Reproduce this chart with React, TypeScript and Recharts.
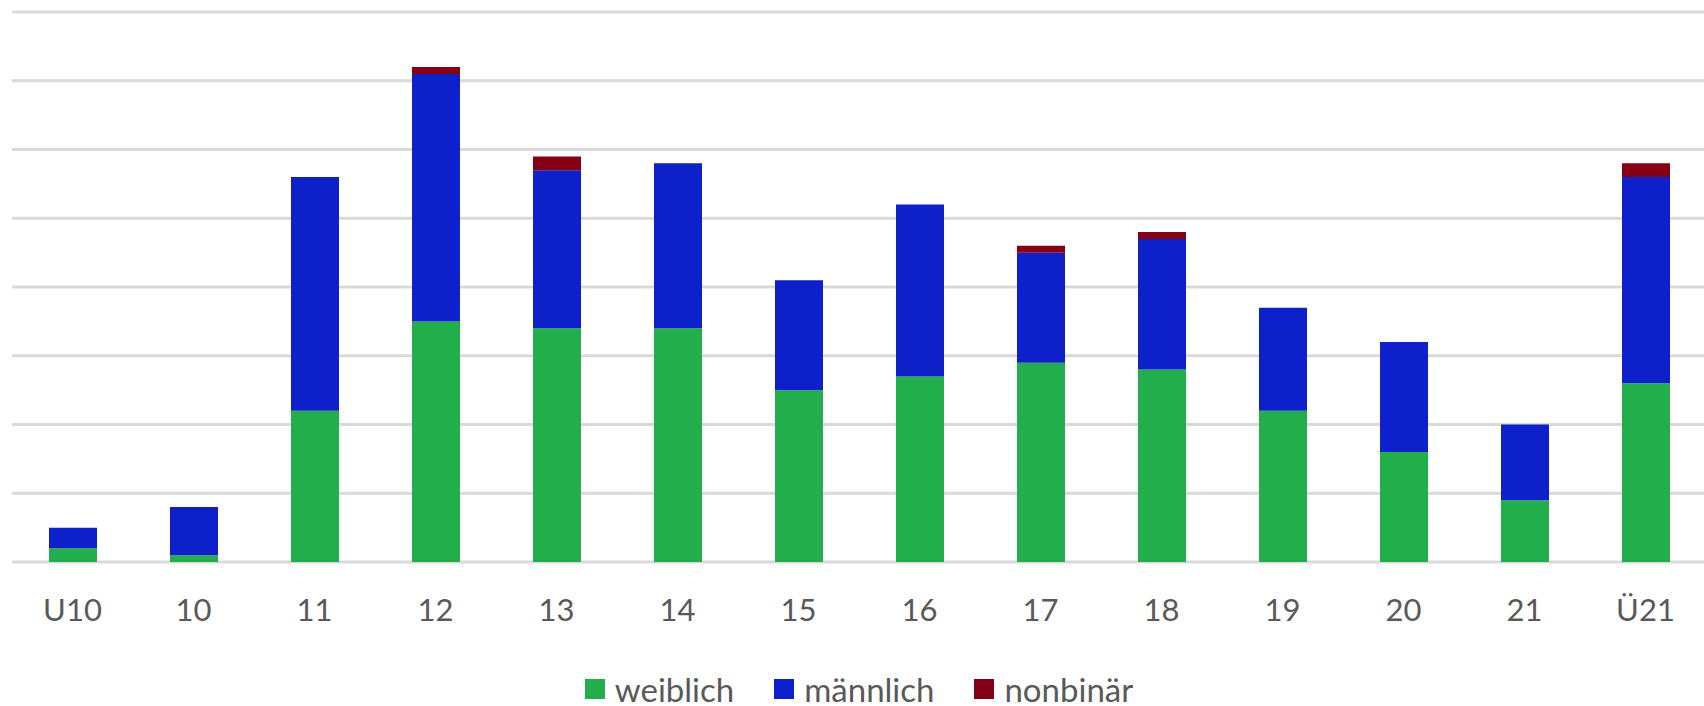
import * as React from 'react'
import { BarChart, Bar, XAxis, YAxis, CartesianGrid, Legend } from 'recharts'

const categories = ['U10', '10', '11', '12', '13', '14', '15', '16', '17', '18', '19', '20', '21', 'Ü21']
const weiblich = [2, 1, 22, 35, 34, 34, 25, 27, 29, 28, 22, 16, 9, 26]
const maennlich = [3, 7, 34, 36, 23, 24, 16, 25, 16, 19, 15, 16, 11, 30]
const nonbinaer = [0, 0, 0, 1, 2, 0, 0, 0, 1, 1, 0, 0, 0, 2]
const yTicks = [0, 10, 20, 30, 40, 50, 60, 70, 80]

const series = [
    { key: 'weiblich', name: 'weiblich', color: '#22AF4B' },
    { key: 'maennlich', name: 'männlich', color: '#0D20CA' },
    { key: 'nonbinaer', name: 'nonbinär', color: '#850014' },
]

const rows = categories.map((c, i) => ({
    cat: c,
    weiblich: weiblich[i],
    maennlich: maennlich[i],
    nonbinaer: nonbinaer[i],
}))

const font = 'Lato, "Open Sans", sans-serif'
const textColor = '#595959'

function LegendBox() {
    return (
        <div style={{
            display: 'flex', justifyContent: 'center', alignItems: 'center',
            height: 84, paddingTop: 50, boxSizing: 'border-box',
            fontFamily: font, fontSize: 33, lineHeight: '34px', color: textColor,
        }}>
            {series.map((s, i) => (
                <div key={s.key} style={{ display: 'flex', alignItems: 'center', marginLeft: i ? 40 : 0 }}>
                    <span style={{ display: 'inline-block', width: 20, height: 20, background: s.color, marginRight: 10 }} />
                    <span>{s.name}</span>
                </div>
            ))}
        </div>
    )
}

export default function App() {
    return (
        <div style={{ position: 'absolute', left: 0, top: 0, background: '#fff' }}>
            <BarChart width={1704} height={706} data={rows}
                margin={{ top: 12, right: -2, left: 12, bottom: 0 }} barSize={48}>
                <CartesianGrid vertical={false} stroke="#d9d9d9" strokeWidth={3} />
                <XAxis dataKey="cat" axisLine={false} tickLine={false} tickSize={0} tickMargin={37}
                    height={60} interval={0}
                    tick={{ fill: textColor, fontSize: 31, fontFamily: font }} />
                <YAxis hide domain={[0, 80]} ticks={yTicks} />
                <Legend verticalAlign="bottom" height={84} content={() => <LegendBox />} />
                {series.map(s => (
                    <Bar key={s.key} dataKey={s.key} name={s.name} stackId="a" fill={s.color} isAnimationActive={false} />
                ))}
            </BarChart>
        </div>
    )
}
